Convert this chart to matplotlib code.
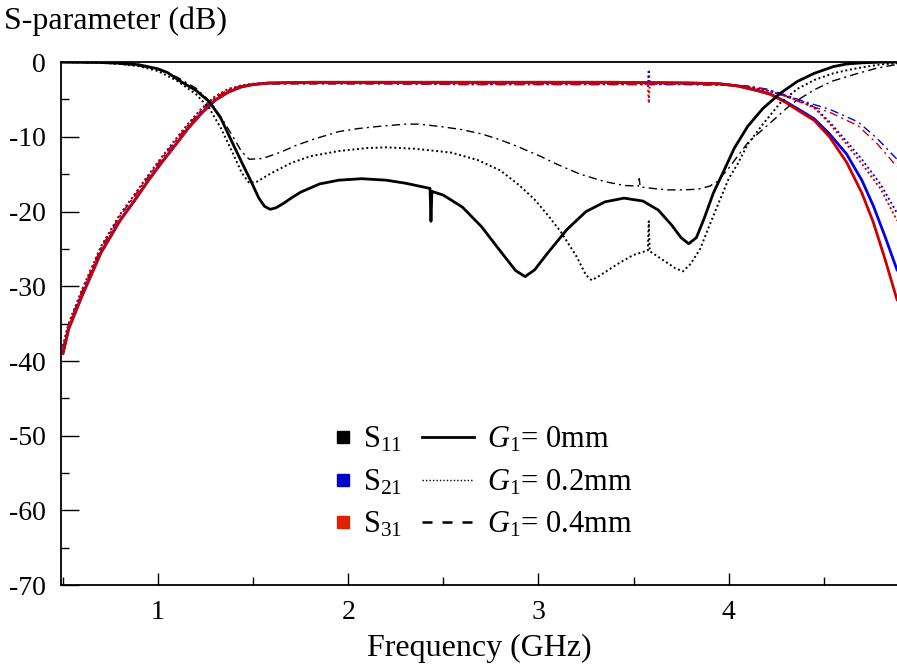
import numpy as np
import matplotlib
matplotlib.use("Agg")
import matplotlib.pyplot as plt
from matplotlib.lines import Line2D
from matplotlib.ticker import MultipleLocator, FixedLocator

plt.rcParams["font.family"] = "Liberation Serif"
plt.rcParams["mathtext.fontset"] = "custom"
plt.rcParams["mathtext.rm"] = "Liberation Serif"
plt.rcParams["mathtext.it"] = "Liberation Serif:italic"
plt.rcParams["axes.unicode_minus"] = False

# ---- data (frequency in GHz, level in dB) ----
f_s11_g0 = [0.5, 0.7, 0.8, 0.9, 1.0, 1.05, 1.12, 1.2, 1.27, 1.33, 1.38, 1.44, 1.49, 1.53, 1.56,
            1.59, 1.62, 1.66, 1.7, 1.75, 1.85, 1.95, 2.07, 2.2, 2.3, 2.43, 2.435, 2.44, 2.5, 2.6,
            2.7, 2.8, 2.88, 2.93, 2.98, 3.05, 3.15, 3.25, 3.35, 3.45, 3.55, 3.63, 3.7, 3.75, 3.79,
            3.83, 3.87, 3.92, 3.97, 4.03, 4.1, 4.18, 4.27, 4.36, 4.45, 4.55, 4.62, 4.7, 4.8, 4.885]
s11_g0 = [0.0, -0.05, -0.15, -0.35, -0.9, -1.4, -2.6, -3.8, -5.3, -7.5, -10.2, -13.4, -16.0, -18.2, -19.3,
          -19.7, -19.5, -18.9, -18.2, -17.4, -16.3, -15.8, -15.6, -15.8, -16.2, -16.9, -21.3, -17.3, -17.8, -19.4,
          -22.0, -25.3, -27.9, -28.7, -27.8, -25.5, -22.4, -20.0, -18.7, -18.2, -18.6, -19.8, -21.8, -23.5, -24.3,
          -23.5, -21.0, -17.5, -14.8, -11.5, -8.6, -6.2, -4.2, -2.6, -1.5, -0.6, -0.25, -0.1, 0.0, 0.0]

f_s11_g02 = [0.5, 0.7, 0.8, 0.9, 1.0, 1.1, 1.2, 1.27, 1.33, 1.39, 1.44, 1.48, 1.52, 1.6, 1.7, 1.8,
             1.95, 2.1, 2.2, 2.35, 2.54, 2.68, 2.8, 2.9, 2.98, 3.05, 3.12, 3.2, 3.25, 3.28, 3.32,
             3.43, 3.5, 3.575, 3.58, 3.585, 3.65, 3.72, 3.76, 3.8, 3.85, 3.9, 3.94, 4.0, 4.05, 4.1,
             4.18, 4.27, 4.36, 4.45, 4.55, 4.62, 4.7, 4.8, 4.885]
s11_g02 = [0.0, -0.1, -0.25, -0.55, -1.2, -2.5, -4.3, -6.2, -8.8, -12.0, -14.8, -16.2, -16.0, -14.8, -13.5, -12.6,
           -11.9, -11.5, -11.4, -11.6, -12.1, -13.1, -14.5, -16.5, -18.4, -20.5, -22.8, -26.0, -28.5, -29.2, -28.6,
           -26.8, -25.8, -25.2, -21.3, -25.3, -26.4, -27.6, -28.0, -27.0, -25.0, -21.8, -19.3, -15.6, -13.5, -11.0,
           -8.3, -5.5, -3.6, -2.4, -1.5, -1.1, -0.7, -0.3, -0.15]

f_s11_g04 = [0.5, 0.7, 0.8, 0.9, 1.0, 1.1, 1.2, 1.27, 1.33, 1.39, 1.44, 1.48, 1.55, 1.65, 1.72, 1.82,
             1.95, 2.05, 2.16, 2.3, 2.37, 2.48, 2.59, 2.7, 2.8, 2.9, 3.01, 3.1, 3.22, 3.35, 3.45,
             3.525, 3.53, 3.535, 3.6, 3.68, 3.76, 3.84, 3.9, 3.94, 4.0, 4.1, 4.22, 4.33, 4.45, 4.55,
             4.68, 4.78, 4.885]
s11_g04 = [0.0, -0.1, -0.25, -0.5, -1.0, -2.0, -3.5, -5.2, -7.3, -9.8, -12.0, -13.0, -12.9, -12.0, -11.2, -10.3,
           -9.3, -8.9, -8.6, -8.3, -8.3, -8.6, -9.0, -9.6, -10.4, -11.4, -12.6, -13.7, -15.0, -16.0, -16.5,
           -16.6, -15.6, -16.7, -16.9, -17.1, -17.1, -17.0, -16.6, -16.0, -14.2, -10.8, -8.1, -5.6, -3.7, -2.5,
           -1.5, -0.8, -0.3]

f_thru_g0 = [0.5, 0.53, 0.6, 0.7, 0.8, 0.88, 0.95, 1.02, 1.1, 1.16, 1.23, 1.3, 1.37, 1.44, 1.5, 1.58,
             1.8, 2.2, 2.6, 3.0, 3.4, 3.8, 3.95, 4.05, 4.15, 4.22, 4.3, 4.38, 4.45, 4.53, 4.62,
             4.7, 4.76, 4.82, 4.885]
s21_g0 = [-39.0, -35.7, -31.3, -25.5, -21.2, -18.4, -15.8, -13.4, -10.8, -8.8, -6.8, -5.1, -4.0, -3.3, -3.0, -2.8,
          -2.7, -2.7, -2.7, -2.7, -2.7, -2.8, -2.9, -3.2, -3.8, -4.3, -5.3, -6.5, -7.6, -9.6, -12.3,
          -15.8, -19.2, -23.2, -27.8]
s31_g0 = [-39.0, -35.7, -31.3, -25.5, -21.2, -18.4, -15.8, -13.4, -10.8, -8.8, -6.8, -5.1, -4.0, -3.3, -3.0, -2.8,
          -2.7, -2.7, -2.7, -2.7, -2.7, -2.8, -2.9, -3.2, -3.8, -4.3, -5.4, -6.7, -7.8, -10.0, -13.4,
          -17.5, -21.4, -26.2, -31.8]

f_thru_g02 = [0.5, 0.53, 0.6, 0.7, 0.8, 0.88, 0.95, 1.02, 1.1, 1.16, 1.23, 1.3, 1.37, 1.44, 1.5, 1.6,
              1.8, 2.2, 2.6, 3.0, 3.4, 3.575, 3.58, 3.585, 3.8, 4.0, 4.1, 4.2, 4.3, 4.38, 4.45,
              4.53, 4.62, 4.7, 4.8, 4.885]
s21_g02 = [-38.0, -35.0, -30.5, -24.7, -20.4, -17.6, -15.1, -12.7, -10.1, -8.2, -6.2, -4.6, -3.6, -3.1, -2.9, -2.8,
           -2.8, -2.8, -2.9, -2.9, -2.9, -2.9, -1.0, -2.9, -2.9, -3.0, -3.3, -3.8, -4.5, -5.2, -6.0,
           -8.0, -10.6, -13.0, -16.4, -20.2]
s31_g02 = [-38.0, -35.0, -30.5, -24.7, -20.4, -17.6, -15.1, -12.7, -10.1, -8.2, -6.2, -4.6, -3.6, -3.1, -2.9, -2.8,
           -2.8, -2.8, -2.9, -2.9, -2.9, -2.9, -5.5, -2.9, -2.9, -3.0, -3.3, -3.8, -4.5, -5.3, -6.1,
           -8.2, -11.0, -13.6, -17.0, -21.2]

f_thru_g04 = [0.5, 0.53, 0.6, 0.7, 0.8, 0.88, 0.95, 1.02, 1.1, 1.16, 1.23, 1.3, 1.37, 1.44, 1.5, 1.6,
              1.8, 2.2, 2.6, 3.0, 3.4, 3.8, 4.0, 4.1, 4.2, 4.3, 4.4, 4.53, 4.68, 4.78, 4.885]
s21_g04 = [-38.3, -35.2, -30.7, -24.9, -20.6, -17.8, -15.3, -12.9, -10.3, -8.4, -6.4, -4.8, -3.7, -3.2, -3.0, -2.9,
           -2.9, -2.9, -3.0, -3.0, -3.0, -3.0, -3.1, -3.2, -3.6, -4.4, -5.3, -6.3, -8.0, -10.2, -13.0]
s31_g04 = [-38.3, -35.2, -30.7, -24.9, -20.6, -17.8, -15.3, -12.9, -10.3, -8.4, -6.4, -4.8, -3.7, -3.2, -3.0, -2.9,
           -2.9, -2.9, -3.0, -3.0, -3.0, -3.0, -3.1, -3.2, -3.7, -4.6, -5.6, -6.7, -8.5, -10.9, -14.0]

x_ticks = [1, 2, 3, 4]
y_ticks = [0, -10, -20, -30, -40, -50, -60, -70]
s_labels = ["S$_{11}$", "S$_{21}$", "S$_{31}$"]
g_labels = ["$G_1$= 0mm", "$G_1$= 0.2mm", "$G_1$= 0.4mm"]

BLK, BLU, RED = "#000000", "#0000ee", "#cc0000"
DOT = (0, (1, 1.4))
DASH = (0, (6, 3, 1.5, 3))

fig = plt.figure(figsize=(8.97, 6.68), dpi=100)
ax = fig.add_axes([0.068, 0.124, 0.932, 0.783])

# transmission curves (dotted / dashed first, solid on top)
ax.plot(f_thru_g04, s21_g04, color=BLU, ls=DASH, lw=1.0)
ax.plot(f_thru_g04, s31_g04, color=RED, ls=DASH, lw=1.0)
ax.plot(f_thru_g02, s21_g02, color=BLU, ls=DOT, lw=1.4)
ax.plot(f_thru_g02, s31_g02, color=RED, ls=DOT, lw=1.4)
ax.plot(f_thru_g0, s21_g0, color=BLU, lw=2.0)
ax.plot(f_thru_g0, s31_g0, color=RED, lw=2.0)

# reflection
ax.plot(f_s11_g04, s11_g04, color=BLK, ls=DASH, lw=1.0)
ax.plot(f_s11_g02, s11_g02, color=BLK, ls=DOT, lw=1.4)
ax.plot(f_s11_g0, s11_g0, color=BLK, lw=2.0)

ax.set_xlim(0.49, 4.885)
ax.set_ylim(-70, 0)
ax.xaxis.set_major_locator(FixedLocator(x_ticks))
ax.xaxis.set_minor_locator(MultipleLocator(0.5))
ax.yaxis.set_major_locator(FixedLocator(y_ticks))
ax.yaxis.set_minor_locator(MultipleLocator(5))
ax.set_yticklabels([str(v) for v in y_ticks])
ax.tick_params(axis="both", which="major", direction="in", width=1, labelsize=20)
ax.tick_params(axis="y", which="major", length=13, pad=11)
ax.tick_params(axis="x", which="major", length=9, pad=11)
ax.tick_params(axis="both", which="minor", direction="in", length=6, width=1)
ax.spines["right"].set_visible(False)
for s in ["left", "bottom", "top"]:
    ax.spines[s].set_linewidth(1.3)

ax.set_xlabel("Frequency (GHz)", fontsize=23, labelpad=6)
fig.text(0.005, 0.968, "S-parameter (dB)", fontsize=23, ha="left", va="center")

sq = [Line2D([], [], marker="s", ls="none", color=c, markersize=8) for c in (BLK, "#0000cc", "#e02000")]
ln = [Line2D([], [], color=BLK, lw=2.0),
      Line2D([], [], color=BLK, ls=(0, (1, 1.5)), lw=1.0),
      Line2D([], [], color=BLK, ls=(0, (4, 4)), lw=1.8)]
leg1 = ax.legend(sq, s_labels, frameon=False, fontsize=22, loc="upper left",
                 bbox_to_anchor=(0.355, 0.386), bbox_transform=fig.transFigure,
                 handlelength=0.6, handletextpad=0.35, labelspacing=0.42, borderpad=0)
ax.add_artist(leg1)
ax.legend(ln, g_labels, frameon=False, fontsize=22, loc="upper left",
          bbox_to_anchor=(0.453, 0.386), bbox_transform=fig.transFigure,
          handlelength=1.7, handletextpad=0.45, labelspacing=0.42, borderpad=0)

fig.savefig("out.png", dpi=100)
